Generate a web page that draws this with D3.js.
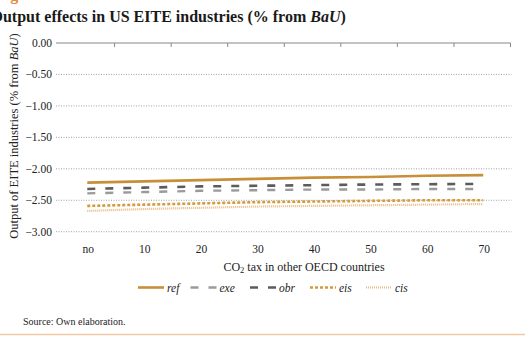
<!DOCTYPE html>
<html><head><meta charset="utf-8">
<script src="https://cdn.jsdelivr.net/npm/d3@7"></script>
<style>body{margin:0;background:#fff}svg{display:block}text{font-family:"Liberation Serif","DejaVu Serif",serif}</style>
</head><body>
<svg id="c" width="525" height="341"></svg>
<script>
const categories = ["no","10","20","30","40","50","60","70"];
const yTicks = [0,-0.5,-1,-1.5,-2,-2.5,-3];
const refVals = [-2.22,-2.20,-2.18,-2.16,-2.14,-2.13,-2.11,-2.10];
const exeVals = [-2.39,-2.37,-2.35,-2.34,-2.33,-2.33,-2.32,-2.32];
const obrVals = [-2.32,-2.30,-2.28,-2.27,-2.26,-2.25,-2.245,-2.24];
const eisVals = [-2.59,-2.57,-2.55,-2.53,-2.52,-2.51,-2.50,-2.50];
const cisVals = [-2.67,-2.64,-2.62,-2.60,-2.59,-2.58,-2.57,-2.56];
const seriesNames = ["ref","exe","obr","eis","cis"];

const styles = {
  ref:{color:"#c98f38",w:2.6,dash:null},
  exe:{color:"#9a9a9a",w:2.4,dash:"8,10"},
  obr:{color:"#5c5c5c",w:2.6,dash:"8,10"},
  eis:{color:"#d39a3e",w:2.6,dash:"3,2"},
  cis:{color:"#e6bc82",w:2.2,dash:"1,1"}
};
const seriesData = {ref:refVals,exe:exeVals,obr:obrVals,eis:eisVals,cis:cisVals};

const svg = d3.select("#c");
const x = d3.scaleBand().domain(categories).range([58,510.5]);
const y = d3.scaleLinear().domain([-3,0]).range([231.7,43]);

// top orange cut-off heading (cut off at the top, as in the reference)
svg.append("text").attr("x",-4).attr("y",0).attr("font-size",16).attr("font-weight","bold")
  .attr("fill","#e8893a").text("Figure 9");
// title (first letter cut off at the left edge, as in the reference)
const t = svg.append("text").attr("x",-9.5).attr("y",22).attr("font-size",16).attr("font-weight","bold").attr("fill","#1a1a1a");
t.append("tspan").text("Output effects in US EITE industries (% from ");
t.append("tspan").attr("font-style","italic").text("BaU");
t.append("tspan").text(")");

// gridlines
svg.append("g").selectAll("line").data(yTicks.filter(d=>d!==0)).join("line")
  .attr("x1",56).attr("x2",511.5).attr("y1",d=>y(d)).attr("y2",d=>y(d))
  .attr("stroke","#8a8a8a").attr("stroke-width",0.8).attr("stroke-dasharray","1,1.5");

// y tick labels
svg.append("g").selectAll("text").data(yTicks).join("text")
  .attr("x",52).attr("y",d=>y(d)+4).attr("text-anchor","end").attr("font-size",11.5).attr("fill","#222")
  .text(d=>d3.format(".2f")(d));

// zero axis line with ticks
const ax = svg.append("g").attr("transform",`translate(0,${y(0)})`)
  .call(d3.axisBottom(x).tickSize(0).tickFormat(""));
ax.select(".domain").attr("stroke","#888").attr("stroke-width",1.2).attr("d",`M56,0H510.5`);
const bounds = categories.map(c=>x(c)+x.bandwidth());
ax.selectAll(".bt").data(bounds).join("line").attr("class","bt")
  .attr("x1",d=>d).attr("x2",d=>d).attr("y1",0).attr("y2",4).attr("stroke","#888").attr("stroke-width",1);

// x tick labels
svg.append("g").selectAll("text").data(categories).join("text")
  .attr("x",d=>x(d)+x.bandwidth()/2+2).attr("y",253).attr("text-anchor","middle")
  .attr("font-size",11.5).attr("fill","#222").text(d=>d);

// series lines
const line = d3.line().x((d,i)=>x(categories[i])+x.bandwidth()/2+1).y(d=>y(d));
const order = ["cis","eis","exe","obr","ref"];
order.forEach(s=>{
  const st = styles[s];
  svg.append("path").datum(seriesData[s]).attr("d",line).attr("fill","none")
    .attr("stroke",st.color).attr("stroke-width",st.w).attr("stroke-dasharray",st.dash);
});

// y axis title
const yt = svg.append("text").attr("transform","translate(18,136) rotate(-90)").attr("text-anchor","middle")
  .attr("font-size",12.5).attr("fill","#222");
yt.append("tspan").text("Output of EITE industries (% from ");
yt.append("tspan").attr("font-style","italic").text("BaU");
yt.append("tspan").text(")");

// x axis title
const xt = svg.append("text").attr("x",304).attr("y",271).attr("text-anchor","middle").attr("font-size",12).attr("fill","#222");
xt.append("tspan").text("CO");
xt.append("tspan").attr("font-size",8.5).attr("dy",2).text("2");
xt.append("tspan").attr("dy",-2).text(" tax in other OECD countries");

// legend
const legendX = {ref:138,exe:190.5,obr:250,eis:310,cis:366};
seriesNames.forEach(s=>{
  const st = styles[s], lx = legendX[s];
  svg.append("line").attr("x1",lx).attr("x2",lx+26).attr("y1",287.5).attr("y2",287.5)
    .attr("stroke",st.color).attr("stroke-width",st.w).attr("stroke-dasharray",st.dash);
  svg.append("text").attr("x",lx+29).attr("y",291.5).attr("font-size",11.5).attr("font-style","italic")
    .attr("fill","#222").text(s);
});

// source
svg.append("text").attr("x",23).attr("y",325).attr("font-size",10).attr("fill","#222").text("Source: Own elaboration.");
svg.append("line").attr("x1",0).attr("x2",525).attr("y1",334.5).attr("y2",334.5).attr("stroke","#f2c7a4").attr("stroke-width",1.5);
</script>
</body></html>
